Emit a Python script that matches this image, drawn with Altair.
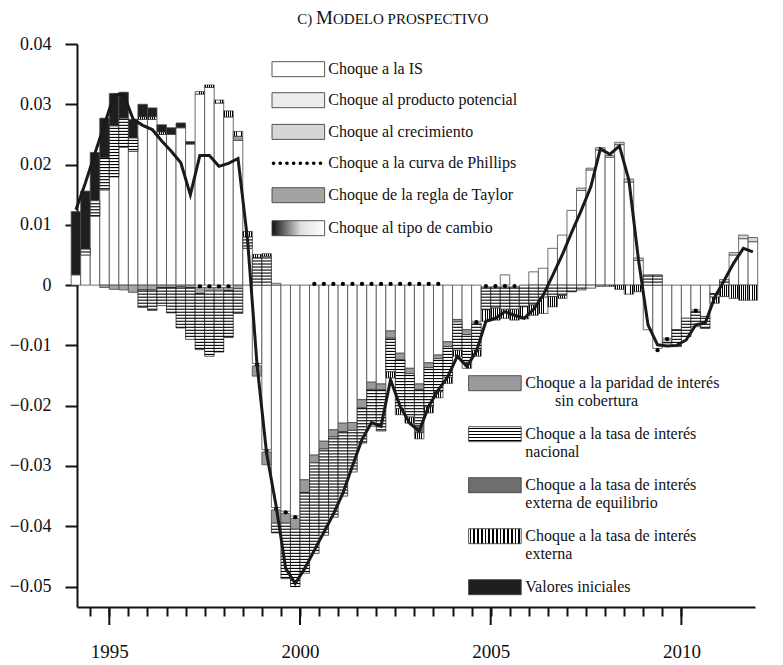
import altair as alt
import pandas as pd

SERIF = "Liberation Serif"
YEAR0 = 1994  # first quarter: 1994 T1, 72 quarters up to 2011 T4
MAJOR_YEARS = [1995, 2000, 2005, 2010]

# ---- components of the historical decomposition (one value per quarter) ----
IS = [0.0017, 0.0050, 0.0115, 0.0158,
      0.0180, 0.0229, 0.0222, 0.0275,
      0.0275, 0.0250, 0.0250, 0.0261,
      0.0234, 0.0317, 0.0328, 0.0302,
      0.0279, 0.0240, 0.0061, -0.0130,
      -0.0273, -0.0369, -0.0375, -0.0383,
      -0.0323, -0.0282, -0.0259, -0.0240,
      -0.0229, -0.0228, -0.0190, -0.0161,
      -0.0164, -0.0076, -0.0113, -0.0138,
      -0.0164, -0.0129, -0.0116, -0.0094,
      -0.0057, -0.0074, -0.0060, 0.0,
      0.0, 0.0017, 0.0, 0.0,
      0.0022, 0.0028, 0.0061, 0.0083,
      0.0124, 0.0157, 0.0191, 0.0224,
      0.0212, 0.0233, 0.0171, 0.0041,
      -0.0074, -0.0105, -0.0088, -0.0074,
      -0.0055, -0.0041, -0.0052, -0.0014,
      0.0, 0.0050, 0.0077, 0.0072]
POT = [0.0] * 72
CREC = [0.0, 0.0, 0.0, 0.0,
        0.0, 0.0, 0.0, 0.0,
        0.0, 0.0, 0.0, 0.0,
        0.0, 0.0, 0.0, 0.0,
        0.0, 0.0, 0.0, 0.0,
        0.0, 0.0003, 0.0, 0.0,
        0.0, 0.0, 0.0, 0.0,
        0.0, 0.0, 0.0, 0.0,
        0.0, 0.0, 0.0, 0.0,
        0.0, 0.0, 0.0, 0.0,
        0.0, 0.0, 0.0, 0.0,
        0.0, 0.0, 0.0, 0.0,
        0.0, 0.0, 0.0, 0.0,
        0.0, 0.0004, 0.0003, 0.0004,
        0.0003, 0.0004, 0.0005, 0.0004,
        0.0, 0.0, 0.0, 0.0,
        0.0, 0.0, 0.0, 0.0,
        0.0, 0.0004, 0.0006, 0.0007]
PHIL = [0.0, 0.0, 0.0, 0.0,
        0.0, 0.0, 0.0, 0.0,
        0.0, 0.0, 0.0, 0.0,
        0.0, -0.0004, -0.0004, -0.0004,
        -0.0004, 0.0, 0.0, -0.0004,
        -0.0004, -0.0004, -0.0004, -0.0004,
        0.0, 0.0004, 0.0004, 0.0004,
        0.0004, 0.0004, 0.0004, 0.0004,
        0.0004, 0.0004, 0.0004, 0.0004,
        0.0004, 0.0004, 0.0004, 0.0,
        0.0, 0.0, -0.0003, -0.0003,
        -0.0003, -0.0003, -0.0003, 0.0,
        0.0, 0.0, 0.0, 0.0,
        0.0, 0.0, 0.0, 0.0,
        0.0, 0.0, 0.0, 0.0,
        0.0, -0.0006, -0.0003, 0.0,
        0.0, -0.0003, 0.0, 0.0,
        0.0, 0.0, 0.0, 0.0]
TAY = [0.0, 0.0, 0.0, -0.0004,
       -0.0007, -0.0008, -0.0012, -0.0008,
       -0.0008, -0.0004, -0.0004, -0.0003,
       -0.0004, -0.0010, -0.0006, -0.0006,
       -0.0005, -0.0006] + [0.0] * 54
TC = [0.0] * 72
PAR = [0.0] * 17 + [0.0007, 0.0, -0.0017,
       -0.0021, -0.0022, -0.0016, -0.0018,
       -0.0021, -0.0013, -0.0013, -0.0012,
       -0.0014, -0.0013, -0.0014, -0.0012,
       -0.0010, -0.0012, -0.0011, -0.0009,
       -0.0009, -0.0008, -0.0006, -0.0008,
       -0.0004, -0.0008] + [0.0] * 30
NAC = [0.0, 0.0011, 0.0025, 0.0053,
       0.0084, 0.0048, 0.0022, -0.0029,
       -0.0034, -0.0030, -0.0042, -0.0068,
       -0.0086, -0.0093, -0.0108, -0.0101,
       -0.0078, -0.0041, 0.0019, 0.0046,
       0.0048, -0.0016, -0.0092, -0.0095,
       -0.0134, -0.0150, -0.0143, -0.0133,
       -0.0107, -0.0069, -0.0058, -0.0061,
       -0.0068, -0.0056, -0.0081, -0.0072,
       -0.0060, -0.0065, -0.0055, -0.0051,
       -0.0047, -0.0046, -0.0045, -0.0038,
       -0.0035, -0.0037, -0.0037, -0.0036,
       -0.0033, -0.0020, -0.0019, -0.0017,
       -0.0011, -0.0008, -0.0005, -0.0002,
       0.0, 0.0, 0.0, 0.0,
       0.0017, 0.0017, -0.0005, -0.0028,
       -0.0030, -0.0025, -0.0020, -0.0006,
       0.0009, 0.0, 0.0, 0.0]
EQ = [0.0] * 36 + [-0.0012] + [0.0] * 35
EXT = [0.0, 0.0, 0.0, 0.0,
       0.0, 0.0, 0.0, 0.0004,
       0.0004, 0.0004, 0.0, 0.0,
       0.0, 0.0004, 0.0004, 0.0005,
       0.0010, 0.0008, 0.0009, 0.0005,
       0.0004, 0.0, 0.0, 0.0,
       0.0, 0.0, 0.0, 0.0,
       0.0, 0.0, 0.0, 0.0,
       0.0, -0.0010, -0.0010, -0.0010,
       -0.0010, -0.0010, -0.0010, -0.0010,
       -0.0010, -0.0010, -0.0010, -0.0019,
       -0.0020, -0.0015, -0.0018, -0.0020,
       -0.0017, -0.0027, -0.0017, -0.0005,
       0.0, 0.0, 0.0, 0.0,
       -0.0002, -0.0007, -0.0015, -0.0011,
       0.0, 0.0, 0.0, 0.0,
       0.0, 0.0, 0.0, -0.0010,
       -0.0019, -0.0022, -0.0025, -0.0025]
VI = [0.0105, 0.0095, 0.0080, 0.0066,
      0.0054, 0.0043, 0.0031, 0.0021,
      0.0015, 0.0012, 0.0011, 0.0008,
      0.0004] + [0.0] * 59

# observed series (line)
OBS = [0.0125, 0.0170, 0.0219, 0.0267,
       0.0315, 0.0317, 0.0275, 0.0265,
       0.0258, 0.0239, 0.0222, 0.0203,
       0.0150, 0.0215, 0.0215, 0.0197,
       0.0202, 0.0210, 0.0075, -0.0133,
       -0.0279, -0.0367, -0.0470, -0.0495,
       -0.0470, -0.0440, -0.0410, -0.0380,
       -0.0345, -0.0300, -0.0256, -0.0228,
       -0.0234, -0.0157, -0.0201, -0.0229,
       -0.0242, -0.0201, -0.0174, -0.0152,
       -0.0118, -0.0135, -0.0110, -0.0060,
       -0.0055, -0.0044, -0.0050, -0.0055,
       -0.0040, -0.0017, 0.0016, 0.0050,
       0.0088, 0.0124, 0.0163, 0.0226,
       0.0217, 0.0231, 0.0174, 0.0042,
       -0.0066, -0.0099, -0.0101, -0.0100,
       -0.0091, -0.0066, -0.0063, -0.0020,
       0.0008, 0.0037, 0.0061, 0.0055]

NAMES = ["Choque a la IS", "Choque al producto potencial", "Choque al crecimiento",
         "Choque a la curva de Phillips", "Choque de la regla de Taylor",
         "Choque al tipo de cambio", "Choque a la paridad de interés sin cobertura",
         "Choque a la tasa de interés nacional",
         "Choque a la tasa de interés externa de equilibrio",
         "Choque a la tasa de interés externa", "Valores iniciales"]
SERIES = [IS, POT, CREC, PHIL, TAY, TC, PAR, NAC, EQ, EXT, VI]

# ---- stacking (positives upwards, negatives downwards) ----
rows = []
for i in range(len(OBS)):
    t0 = YEAR0 + i / 4
    pos = neg = 0.0
    for name, arr in zip(NAMES, SERIES):
        v = arr[i]
        if v == 0:
            continue
        if v > 0:
            lo, hi = pos, pos + v
            pos = hi
        else:
            lo, hi = neg + v, neg
            neg = lo
        rows.append(dict(comp=name, t0=t0, t1=t0 + 0.25, tc=t0 + 0.125,
                         lo=lo, hi=hi, mid=(lo + hi) / 2))
seg = pd.DataFrame(rows)
line_df = pd.DataFrame({"t": [YEAR0 + i / 4 + 0.125 for i in range(len(OBS))], "v": OBS})

# horizontal hatching of the "nacional" shock
STEP = 0.0005
hatch = []
for r in seg[seg.comp == NAMES[7]].itertuples():
    k = int(r.lo // STEP) + 1
    while k * STEP < r.hi - 1e-9:
        hatch.append(dict(t0=r.t0, t1=r.t1, y=k * STEP))
        k += 1
hatch_df = pd.DataFrame(hatch)

# ---- styles ----
def stripes(n, horizontal=False, dark=0.45):
    stops = []
    for k in range(n):
        a = k / n
        pad = (1 - dark) / n / 2
        stops += [alt.GradientStop(offset=a, color="#ffffff"),
                  alt.GradientStop(offset=a + pad, color="#ffffff"),
                  alt.GradientStop(offset=a + pad, color="#000000"),
                  alt.GradientStop(offset=min(a + pad + dark / n, 1), color="#000000"),
                  alt.GradientStop(offset=min(a + pad + dark / n, 1), color="#ffffff")]
    stops.append(alt.GradientStop(offset=1, color="#ffffff"))
    if horizontal:
        return alt.LinearGradient(gradient="linear", stops=stops, x1=0, x2=0, y1=0, y2=1)
    return alt.LinearGradient(gradient="linear", stops=stops, x1=0, x2=1, y1=0, y2=0)

VSTRIPES = stripes(5)
VSTRIPES_LEG = stripes(14)
HSTRIPES_LEG = stripes(5, horizontal=True)
TC_GRAD = alt.LinearGradient(gradient="linear", x1=0, x2=1, y1=0, y2=0,
                             stops=[alt.GradientStop(offset=0, color="#111111"),
                                    alt.GradientStop(offset=0.55, color="#e0e0e0"),
                                    alt.GradientStop(offset=1, color="#ffffff")])
SOLID = {NAMES[0]: "#ffffff", NAMES[1]: "#ececec", NAMES[2]: "#d6d6d6",
         NAMES[4]: "#a3a3a3", NAMES[6]: "#9a9a9a", NAMES[8]: "#6e6e6e",
         NAMES[10]: "#1e1e1e"}

W, H = 678, 563
xs = alt.Scale(domain=[1994.153, 2011.93], nice=False, zero=False)
ys = alt.Scale(domain=[-0.0534, 0.04], nice=False, zero=False)

half_years = [1994.5 + k / 2 for k in range(32)]
xaxis = alt.Axis(values=half_years, title=None, grid=False, tickSize=9,
                 tickWidth=2, tickColor="#111", domainWidth=2, domainColor="#111",
                 labelExpr="datum.value % 5 === 0 ? format(datum.value, 'd') : ''",
                 labelFont=SERIF, labelFontSize=19, labelColor="#111", labelPadding=26,
                 labelFlush=False, labelOverlap=False)
yaxis = alt.Axis(values=[-0.05, -0.04, -0.03, -0.02, -0.01, 0, 0.01, 0.02, 0.03, 0.04],
                 title=None, grid=False, tickSize=12, tickWidth=2, tickColor="#111",
                 domainWidth=2, domainColor="#111",
                 labelExpr="abs(datum.value) < 1e-9 ? '0' : "
                           "replace(format(datum.value, '.2f'), '-', '\u2212')",
                 labelFont=SERIF, labelFontSize=18, labelColor="#111", labelPadding=14)

def X(field):
    return alt.X(field, scale=xs, axis=xaxis)

def Y(field):
    return alt.Y(field, scale=ys, axis=yaxis)

enc_rect = dict(x=X("t0:Q"), x2="t1", y=Y("lo:Q"), y2="hi")

solid = alt.Chart(seg[seg.comp.isin(list(SOLID))]).mark_rect(
    stroke="#4a4a4a", strokeWidth=0.8).encode(
    fill=alt.Fill("comp:N", scale=alt.Scale(domain=list(SOLID), range=list(SOLID.values())),
                  legend=None), **enc_rect)
nac = alt.Chart(seg[seg.comp == NAMES[7]]).mark_rect(
    fill="#ffffff", stroke="#2a2a2a", strokeWidth=0.8).encode(**enc_rect)
nac_hatch = alt.Chart(hatch_df).mark_rule(color="#000000", strokeWidth=1.1).encode(
    x=X("t0:Q"), x2="t1", y=Y("y:Q"))
ext = alt.Chart(seg[seg.comp == NAMES[9]]).mark_rect(
    fill=VSTRIPES, stroke="#2a2a2a", strokeWidth=0.7).encode(**enc_rect)
tc = alt.Chart(seg[seg.comp == NAMES[5]]).mark_rect(
    fill=TC_GRAD, stroke="#2a2a2a", strokeWidth=0.7).encode(**enc_rect)
phil = alt.Chart(seg[seg.comp == NAMES[3]]).mark_point(
    filled=True, shape="circle", size=18, color="#000000", opacity=1).encode(
    x=X("tc:Q"), y=Y("mid:Q"))
line = alt.Chart(line_df).mark_line(color="#1a1a1a", strokeWidth=3, strokeJoin="miter").encode(
    x=X("t:Q"), y=Y("v:Q"))
major = alt.Chart(pd.DataFrame({"yr": MAJOR_YEARS})).mark_rule(
    color="#111", strokeWidth=2).encode(x=X("yr:Q"), y=alt.value(H), y2=alt.value(H + 18))

# ---- hand-made legends ----
one = pd.DataFrame({"a": [0]})

def swatch(x, y, fill, w=52.6, h=15):
    return alt.Chart(one).mark_rect(fill=fill, stroke="#444", strokeWidth=0.9).encode(
        x=alt.value(x), x2=alt.value(x + w), y=alt.value(y - h / 2), y2=alt.value(y + h / 2))

def label(x, y, text, size=16, baseline="middle"):
    return alt.Chart(one).mark_text(align="left", baseline=baseline, font=SERIF,
                                    fontSize=size, color="#111").encode(
        x=alt.value(x), y=alt.value(y), text=alt.value(text))

leg = []
top_rows = [25.2, 56.2, 87.9, 119.2, 151.2, 184.2]
top_fill = ["#ffffff", "#ececec", "#d6d6d6", None, "#a3a3a3", TC_GRAD]
top_text = ["Choque a la IS", "Choque al producto potencial", "Choque al crecimiento",
            "Choque a la curva de Phillips", "Choque de la regla de Taylor",
            "Choque al tipo de cambio"]
for y, f, t in zip(top_rows, top_fill, top_text):
    if f is None:
        leg.append(alt.Chart(one).mark_rule(color="#000", strokeWidth=3.6, strokeCap="round",
                                            strokeDash=[0.1, 6.6]).encode(
            x=alt.value(196.5), x2=alt.value(249), y=alt.value(y)))
    else:
        leg.append(swatch(195.0, y, f))
    leg.append(label(251.3, y, t))

bot_rows = [339.2, 390.2, 441.2, 492.2, 543.2]
bot_fill = ["#9a9a9a", HSTRIPES_LEG, "#6e6e6e", VSTRIPES_LEG, "#1e1e1e"]
bot_text = [("Choque a la paridad de interés", "sin cobertura", 478),
            ("Choque a la tasa de interés", "nacional", 448.3),
            ("Choque a la tasa de interés", "externa de equilibrio", 448.3),
            ("Choque a la tasa de interés", "externa", 448.3),
            ("Valores iniciales", "", 448.3)]
for y, f, (t1, t2, x2) in zip(bot_rows, bot_fill, bot_text):
    leg.append(swatch(391.6, y, f))
    leg.append(label(448.3, y, t1))
    if t2:
        leg.append(label(x2, y + 18, t2))

# title in (emulated) small caps
TITLE_BASE = -20
title = [label(220.3, TITLE_BASE, "C) ", size=15, baseline="alphabetic"),
         label(239.0, TITLE_BASE, "M", size=19, baseline="alphabetic"),
         label(256.0, TITLE_BASE, "ODELO PROSPECTIVO", size=15, baseline="alphabetic")]

chart = alt.layer(solid, nac, nac_hatch, ext, tc, phil, line, major, *leg, *title).properties(
    width=W, height=H,
    autosize=alt.AutoSizeParams(type="none"),
    padding={"left": 69, "top": 36, "right": 10, "bottom": 58},
).configure_view(strokeWidth=0)

chart.save("out.html", embed_options={"renderer": "svg", "actions": False})
